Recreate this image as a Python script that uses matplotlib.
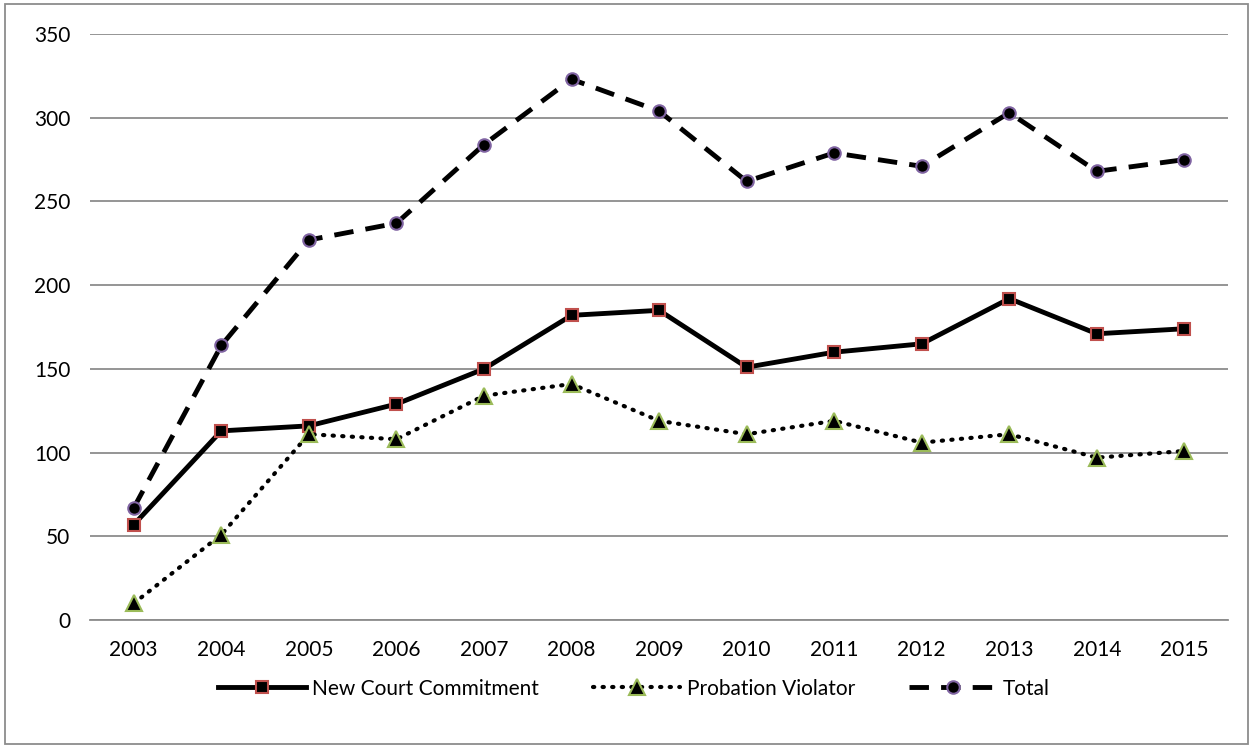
import matplotlib.pyplot as plt
from matplotlib.patches import Rectangle

# Datos
years = ['2003', '2004', '2005', '2006', '2007', '2008', '2009',
         '2010', '2011', '2012', '2013', '2014', '2015']
new_court = [57, 113, 116, 129, 150, 182, 185, 151, 160, 165, 192, 171, 174]
probation = [10, 51, 111, 108, 134, 141, 119, 111, 119, 106, 111, 97, 101]
total = [67, 164, 227, 237, 284, 323, 304, 262, 279, 271, 303, 268, 275]

plt.rcParams['font.family'] = ['Lato', 'DejaVu Sans']

fig = plt.figure(figsize=(12.53, 7.48), dpi=100)
ax = fig.add_axes([0.0718, 0.171, 0.9084, 0.7835])

x = range(len(years))
ax.plot(x, new_court, color='black', linewidth=3.5, linestyle='-',
        marker='s', markersize=9, markerfacecolor='black',
        markeredgecolor='#C0504D', markeredgewidth=1.5,
        label='New Court Commitment', zorder=3)
ax.plot(x, probation, color='black', linewidth=3, linestyle=(0, (0.3, 2.0)),
        dash_capstyle='round', marker='^', markersize=12,
        markerfacecolor='black', markeredgecolor='#9BBB59', markeredgewidth=1.5,
        label='Probation Violator', zorder=3)
ax.plot(x, total, color='black', linewidth=3.5, linestyle=(0, (4, 2.5)),
        marker='o', markersize=9, markerfacecolor='black',
        markeredgecolor='#8064A2', markeredgewidth=1.5,
        label='Total', zorder=3)

ax.set_xlim(-0.5, len(years) - 0.5)
ax.set_ylim(0, 350)
ax.set_yticks(range(0, 351, 50))
ax.set_xticks(list(x))
ax.set_xticklabels(years)
ax.grid(axis='y', color='#8c8c8c', linewidth=1.3)
ax.set_axisbelow(True)
for s in ['top', 'right', 'left']:
    ax.spines[s].set_visible(False)
ax.spines['bottom'].set_color('#8c8c8c')
ax.spines['bottom'].set_linewidth(1.3)
ax.tick_params(length=0, labelsize=15, pad=14)
ax.tick_params(axis='y', pad=14)

ax.legend(loc='upper center', bbox_to_anchor=(0.478, -0.068), ncol=3,
          frameon=False, fontsize=15, handlelength=4.2, handletextpad=0.3,
          columnspacing=2.6)

fig.patches.append(Rectangle((0.004, 0.005), 0.992, 0.99, transform=fig.transFigure,
                             fill=False, edgecolor='#8c8c8c', linewidth=1.3))

fig.savefig('out.png', dpi=100)
